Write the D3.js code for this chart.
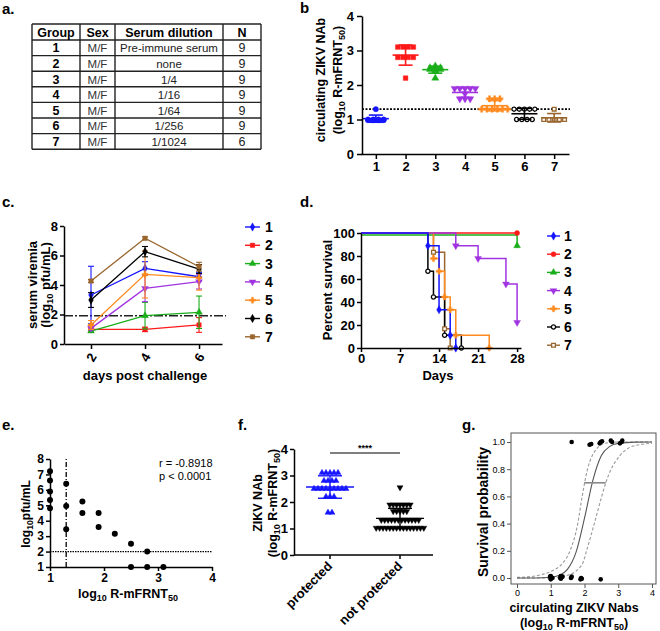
<!DOCTYPE html>
<html><head><meta charset="utf-8">
<script src="https://cdn.jsdelivr.net/npm/d3@7/dist/d3.min.js"></script>
<style>html,body{margin:0;padding:0;background:#fff;}</style>
</head><body>
<svg id="fig" width="660" height="631" xmlns="http://www.w3.org/2000/svg"></svg>
<script>
// ---------------- DATA ----------------
const groups = ["1","2","3","4","5","6","7"];
const groupColors = ["#1414ff","#ff1a1a","#1aae1a","#a034e0","#ff8a1f","#000000","#99662e"];

const tableHeader = ["Group","Sex","Serum dilution","N"];
const tableSex = ["M/F","M/F","M/F","M/F","M/F","M/F","M/F"];
const tableDilution = ["Pre-immune serum","none","1/4","1/16","1/64","1/256","1/1024"];
const tableN = ["9","9","9","9","9","9","6"];

// panel b: circulating nAb per group
const nabValues = [
  [1.3,1.0,1.0,1.0,1.0,0.98,0.98,0.98,0.98],
  [3.1,3.1,3.1,3.1,2.8,2.8,2.8,2.8,2.2],
  [2.55,2.5,2.5,2.5,2.45,2.45,2.45,2.4,2.2],
  [1.9,1.9,1.9,1.9,1.9,1.75,1.6,1.6,1.6],
  [1.6,1.6,1.6,1.3,1.3,1.3,1.3,1.3,1.3],
  [1.3,1.3,1.3,1.3,1.3,1.0,1.0,1.0,1.0],
  [1.3,1.0,1.0,1.0,1.0,1.0]
];
const nabThreshold = 1.3;
const bTicksY = [0,1,2,3,4];

// panel c: serum viremia
const viremiaDays = [2,4,6];
const viremiaMean = [
  [3.32,5.13,4.56],[0.99,0.99,1.29],[0.88,1.92,2.15],[1.06,3.77,4.23],
  [1.29,4.72,4.50],[2.98,6.26,5.08],[4.27,7.17,5.24]];
const viremiaSD = [
  [1.95,0.45,0.3],[0.1,0.15,0.5],[0.1,0.9,1.1],[0.1,0.9,0.5],
  [0.3,1.6,0.85],[0.5,0.35,0.3],[0.1,0.1,0.3]];
const viremiaLimit = 1.92;
const cTicksY = [0,2,4,6,8];

// panel d: survival (step times and percent survival)
const survTimes = [
  [0,12,14,16,17],[0,28],[0,28],[0,17,21,26,28],
  [0,13,14,15,16,17,23],[0,12,13,15,18],[0,13,15,16]];
const survValues = [
  [100,88.9,33.3,11.1,0],[100,100],[100,88.9],[100,88.9,77.8,55.6,22.2],
  [100,77.8,66.7,44.4,33.3,11.1,0],[100,66.7,44.4,11.1,0],[100,83.3,16.7,0]];
const dTicksX = [0,7,14,21,28];
const dTicksY = [0,20,40,60,80,100];

// panel e: viremia vs nAb
const eX = [1,1,1,1,1,1.3,1.3,1.3,1.6,1.6,1.9,1.9,2.2,2.5,2.5,2.8,2.8,3.1];
const eY = [7.2,6.6,5.9,5.35,4.8,6.4,4.95,3.45,5.25,4.5,4.5,3.6,3.15,2.5,1.0,2.0,1.0,1.0];
const eStats = ["r = -0.8918","p < 0.0001"];
const eCutX = 1.3, eCutY = 2;

// panel f: protected vs not protected
const fCategories = ["protected","not protected"];
const fProtected = [3.1,3.1,3.1,3.1,3.1,2.8,2.8,2.8,2.8,2.5,2.5,2.5,2.5,2.5,2.5,2.5,2.5,2.5,2.2,2.2,2.2,1.6,1.6];
const fNotProtected = [2.55,1.9,1.9,1.9,1.9,1.9,1.9,1.9,1.65,1.65,1.65,1.65,1.65,
  1.32,1.32,1.32,1.32,1.32,1.32,1.32,1.32,1.32,1.32,1.32,1.32,
  1.02,1.02,1.02,1.02,1.02,1.02,1.02,1.02,1.02,1.02,1.02,1.02,1.02,1.02,1.02];
const fSig = "****";

// panel g: logistic fit
const gFitX  = [0,0.5,1.0,1.25,1.5,1.75,2.0,2.25,2.5,2.75,3.0,3.5,4.0];
const gFitY  = [0.0,0.0005,0.006,0.02,0.065,0.19,0.44,0.72,0.90,0.968,0.99,0.999,1.0];
const gLowX  = [0,0.3,0.64,1.02,1.32,1.57,1.8,1.93,2.09,2.36,2.6,3.0,4.0];
const gLowY  = [0.005,0.008,0.02,0.05,0.1,0.2,0.4,0.6,0.8,0.95,0.99,1.0,1.0];
const gHighX = [0,1.0,1.5,1.93,2.06,2.29,2.51,2.63,2.79,3.05,3.44,4.0];
const gHighY = [0.0,0.001,0.02,0.1,0.2,0.4,0.6,0.7,0.8,0.9,0.97,0.99];
const gED = {y:0.7, lo:1.99, hi:2.63};
const gPtsX = [1.62,2.15,2.2,2.45,2.48,2.52,2.78,2.82,3.05,3.1,3.12,
  0.98,1.0,1.0,1.02,1.05,1.0,1.28,1.3,1.3,1.32,1.35,1.3,1.6,1.62,1.88,1.9,1.92,2.48];
const gPtsY = [1.0,0.98,0.985,0.99,1.0,1.005,1.01,1.0,0.99,1.0,1.01,
  0.01,0.0,-0.01,0.005,0.0,0.015,0.0,0.01,-0.005,0.005,0.01,0.015,0.0,0.01,-0.01,0.0,-0.005,-0.01];
const gTicksX = [0,1,2,3,4];
const gTicksY = [0,0.2,0.4,0.6,0.8,1.0];

// ---------------- HELPERS ----------------
const svg = d3.select("#fig");
const FONT = 'Arial, "Liberation Sans", Helvetica, sans-serif';
svg.attr("font-family", FONT);
const intFmt = d3.format("d");

function label(x, y, parts, o = {}) {
  const size = o.size || 13;
  const t = svg.append("text").attr("x", x).attr("y", y)
    .attr("font-size", size).attr("font-weight", o.weight || "bold")
    .attr("text-anchor", o.anchor || "middle").attr("fill", o.fill || "#000")
    .attr("font-family", o.family || FONT);
  if (o.rotate) t.attr("transform", `rotate(${o.rotate},${x},${y})`);
  const arr = typeof parts === "string" ? [[parts]] : parts;
  let shifted = false;
  arr.forEach(p => {
    const s = t.append("tspan").text(p[0]);
    if (p[1]) { s.attr("font-size", size * 0.72).attr("dy", shifted ? 0 : 3); shifted = true; }
    else if (shifted) { s.attr("dy", -3); shifted = false; }
  });
  return t;
}
const symMap = {circle:d3.symbolCircle, square:d3.symbolSquare, triangle:d3.symbolTriangle,
  tridown:d3.symbolTriangle, diamond:d3.symbolDiamond, plus:d3.symbolCross,
  ocircle:d3.symbolCircle, osquare:d3.symbolSquare};
function marker(g, kind, x, y, color, size) {
  const open = kind[0] === "o";
  g.append("path").attr("d", d3.symbol().type(symMap[kind]).size(size)())
    .attr("transform", `translate(${x},${y})` + (kind === "tridown" ? " rotate(180)" : ""))
    .attr("fill", open ? "#fff" : color).attr("stroke", color)
    .attr("stroke-width", open ? 1.3 : 0.4);
}
function styleAxis(g, fs, weight) {
  g.attr("font-family", FONT);
  g.select(".domain").attr("stroke", "#000").attr("stroke-width", 1.5);
  g.selectAll(".tick line").attr("stroke", "#000").attr("stroke-width", 1.5);
  g.selectAll(".tick text").attr("font-size", fs).attr("font-weight", weight || "bold").attr("fill", "#000");
}

// ---------------- PANEL LETTERS ----------------
label(2, 14, "a.", {size:15, anchor:"start"});
label(300, 13, "b", {size:15, anchor:"start"});
label(2, 207, "c.", {size:15, anchor:"start"});
label(300, 207, "d.", {size:15, anchor:"start"});
label(2, 430, "e.", {size:15, anchor:"start"});
label(238, 430, "f.", {size:15, anchor:"start"});
label(462, 430, "g.", {size:15, anchor:"start"});

// ---------------- PANEL A: TABLE ----------------
(function(){
  const colX = [32,80,115,223,261];
  const rowY = [24,40];
  for (let i = 0; i < groups.length; i++) rowY.push(40 + (i + 1) * 15.6);
  const g = svg.append("g");
  rowY.forEach(y => g.append("line").attr("x1", colX[0]).attr("x2", colX[4]).attr("y1", y).attr("y2", y)
    .attr("stroke", "#222").attr("stroke-width", 1.4));
  colX.forEach(x => g.append("line").attr("x1", x).attr("x2", x).attr("y1", rowY[0]).attr("y2", rowY[rowY.length-1])
    .attr("stroke", "#222").attr("stroke-width", 1.4));
  const cx = colX.slice(0, 4).map((x, i) => (x + colX[i+1]) / 2);
  tableHeader.forEach((h, i) => label(cx[i], 36.5, h, {size:12.5, weight:"bold"}));
  groups.forEach((gr, r) => {
    const y = (rowY[r+1] + rowY[r+2]) / 2 + 4.5;
    label(cx[0], y, gr, {size:12.5, weight:"bold"});
    label(cx[1], y, tableSex[r], {size:11.5, weight:"normal", family:'"Liberation Sans Narrow", "Arial Narrow", Arial, sans-serif', fill:"#333"});
    label(cx[2], y, tableDilution[r], {size:11.5, weight:"normal", fill:"#222"});
    label(cx[3], y, tableN[r], {size:12.5, weight:"normal", fill:"#222"});
  });
})();

// ---------------- PANEL B ----------------
(function(){
  const bSym = ["circle","square","triangle","tridown","plus","ocircle","osquare"];
  const x = d3.scaleLinear().domain([0.5, 7.5]).range([361, 569]);
  const y = d3.scaleLinear().domain([0, 4]).range([154, 16]);
  const g = svg.append("g");
  g.append("line").attr("x1", 362).attr("x2", 570).attr("y1", y(nabThreshold)).attr("y2", y(nabThreshold))
    .attr("stroke", "#000").attr("stroke-width", 1.6).attr("stroke-dasharray", "2,1.5");
  nabValues.forEach((vals, gi) => {
    const col = groupColors[gi];
    const cx = x(gi + 1);
    const counts = d3.rollup(vals, v => v.length, d => d);
    const seen = new Map();
    vals.forEach(v => {
      const n = counts.get(v), k = seen.get(v) || 0; seen.set(v, k + 1);
      const off = (k - (n - 1) / 2) * 5.2;
      marker(g, bSym[gi], cx + off, y(v), col, gi >= 5 ? 14 : 22);
    });
    const m = d3.mean(vals), sd = d3.deviation(vals);
    const ln = (x1, x2, y1, y2) => g.append("line").attr("x1", x1).attr("x2", x2).attr("y1", y1).attr("y2", y2)
      .attr("stroke", col).attr("stroke-width", 1.6);
    ln(cx - 13, cx + 13, y(m), y(m));
    ln(cx, cx, y(m - sd), y(m + sd));
    ln(cx - 7, cx + 7, y(m - sd), y(m - sd));
    ln(cx - 7, cx + 7, y(m + sd), y(m + sd));
  });
  const ax = g.append("g").attr("transform", "translate(362,0)")
    .call(d3.axisLeft(y).tickValues(bTicksY).tickFormat(intFmt).tickSize(5).tickPadding(3).tickSizeOuter(0));
  styleAxis(ax, 13);
  const bx = g.append("g").attr("transform", "translate(0,154)")
    .call(d3.axisBottom(x).tickValues(groups.map(Number)).tickFormat(intFmt).tickSize(5).tickPadding(3).tickSizeOuter(0));
  styleAxis(bx, 13);
  label(325, 80, "circulating ZIKV NAb", {size:12.5, rotate:-90});
  label(342, 80, [["(log"],["10",1],[" R-mFRNT"],["50",1],[")"]], {size:12.5, rotate:-90});
})();

// ---------------- PANEL C ----------------
(function(){
  const cSym = ["diamond","square","triangle","tridown","plus","diamond","square"];
  const x = d3.scaleLinear().domain([1, 6.85]).range([64, 222]);
  const y = d3.scaleLinear().domain([0, 8]).range([344, 226]);
  const g = svg.append("g");
  g.append("line").attr("x1", 64).attr("x2", 226).attr("y1", y(viremiaLimit)).attr("y2", y(viremiaLimit))
    .attr("stroke", "#222").attr("stroke-width", 1.4).attr("stroke-dasharray", "9,2,2,2");
  const line = d3.line().x((d, i) => x(viremiaDays[i])).y(d => y(d));
  viremiaMean.forEach((vals, gi) => {
    const col = groupColors[gi];
    vals.forEach((v, i) => {
      const sd = viremiaSD[gi][i], px = x(viremiaDays[i]);
      g.append("line").attr("x1", px).attr("x2", px).attr("y1", y(Math.max(0, v - sd))).attr("y2", y(v + sd))
        .attr("stroke", col).attr("stroke-width", 1.1);
      [v - sd, v + sd].forEach(e => { if (e > 0) g.append("line").attr("x1", px - 3).attr("x2", px + 3)
        .attr("y1", y(e)).attr("y2", y(e)).attr("stroke", col).attr("stroke-width", 1.1); });
    });
    g.append("path").attr("d", line(vals)).attr("fill", "none").attr("stroke", col).attr("stroke-width", 1.3);
    vals.forEach((v, i) => marker(g, cSym[gi], x(viremiaDays[i]), y(v), col, 20));
  });
  const ay = g.append("g").attr("transform", "translate(64,0)")
    .call(d3.axisLeft(y).tickValues(cTicksY).tickFormat(intFmt).tickSize(4).tickPadding(2).tickSizeOuter(0));
  styleAxis(ay, 13);
  const axb = g.append("g").attr("transform", "translate(0,344)")
    .call(d3.axisBottom(x).tickValues(viremiaDays).tickSize(5).tickFormat("").tickSizeOuter(0));
  styleAxis(axb, 13);
  viremiaDays.forEach(d => label(x(d), 357, String(d), {size:13, rotate:-60}).attr("dominant-baseline", "central"));
  label(145, 380, "days post challenge", {size:13});
  label(37, 285, "serum viremia", {size:13, rotate:-90});
  label(50, 285, [["(log"],["10",1],[" pfu/mL)"]], {size:13, rotate:-90});
  groups.forEach((gr, i) => {
    const yy = 227 + i * 18.3, col = groupColors[i];
    g.append("line").attr("x1", 245).attr("x2", 260).attr("y1", yy).attr("y2", yy).attr("stroke", col).attr("stroke-width", 1.4);
    marker(g, cSym[i], 252.5, yy, col, 20);
    label(265, yy + 5, gr, {size:14, anchor:"start"});
  });
})();

// ---------------- PANEL D ----------------
(function(){
  const dSym = ["diamond","circle","triangle","tridown","plus","ocircle","osquare"];
  const x = d3.scaleLinear().domain([0, 28.7]).range([361, 521]);
  const y = d3.scaleLinear().domain([0, 100]).range([348, 233]);
  const g = svg.append("g");
  const order = [2,1,6,5,4,3,0];
  const line = d3.line().curve(d3.curveStepAfter).x(d => x(d[0])).y(d => y(d[1]));
  order.forEach(gi => {
    const pts = survTimes[gi].map((t, i) => [t, survValues[gi][i]]);
    const off = gi === 2 ? 2 : 0;
    g.append("path").attr("d", line(pts)).attr("transform", `translate(0,${off})`)
      .attr("fill", "none").attr("stroke", groupColors[gi]).attr("stroke-width", 1.5);
  });
  order.forEach(gi => {
    survTimes[gi].forEach((t, i) => {
      if (i === 0) return;
      marker(g, dSym[gi], x(t), y(survValues[gi][i]), groupColors[gi], gi >= 5 ? 14 : 20);
    });
  });
  const ay = g.append("g").attr("transform", "translate(361,0)")
    .call(d3.axisLeft(y).tickValues(dTicksY).tickFormat(intFmt).tickSize(4).tickPadding(2).tickSizeOuter(0));
  styleAxis(ay, 13);
  const axb = g.append("g").attr("transform", "translate(0,348)")
    .call(d3.axisBottom(x).tickValues(dTicksX).tickFormat(intFmt).tickSize(4).tickPadding(2).tickSizeOuter(0));
  styleAxis(axb, 13);
  label(438, 380, "Days", {size:13});
  label(332, 290, "Percent survival", {size:13, rotate:-90});
  groups.forEach((gr, i) => {
    const yy = 236 + i * 18.2, col = groupColors[i];
    g.append("line").attr("x1", 547).attr("x2", 560).attr("y1", yy).attr("y2", yy).attr("stroke", col).attr("stroke-width", 1.4);
    marker(g, dSym[i], 553.5, yy, col, i >= 5 ? 14 : 20);
    label(564, yy + 5, gr, {size:14, anchor:"start"});
  });
})();

// ---------------- PANEL E ----------------
(function(){
  const x = d3.scaleLinear().domain([1, 4]).range([50, 212]);
  const y = d3.scaleLinear().domain([1, 8]).range([567, 459]);
  const g = svg.append("g");
  g.append("line").attr("x1", x(eCutX)).attr("x2", x(eCutX)).attr("y1", y(1)).attr("y2", y(8))
    .attr("stroke", "#000").attr("stroke-width", 1.3).attr("stroke-dasharray", "5,2,1,2");
  g.append("line").attr("x1", x(1)).attr("x2", x(4)).attr("y1", y(eCutY)).attr("y2", y(eCutY))
    .attr("stroke", "#000").attr("stroke-width", 1.3).attr("stroke-dasharray", "1.5,1");
  eX.forEach((v, i) => g.append("circle").attr("cx", x(v)).attr("cy", y(eY[i])).attr("r", 3).attr("fill", "#000"));
  const ay = g.append("g").attr("transform", "translate(50,0)")
    .call(d3.axisLeft(y).tickValues(d3.range(1, 9)).tickFormat(intFmt).tickSize(4).tickPadding(2).tickSizeOuter(0));
  styleAxis(ay, 12);
  const axb = g.append("g").attr("transform", "translate(0,567)")
    .call(d3.axisBottom(x).tickValues([1,2,3,4]).tickFormat(intFmt).tickSize(4).tickPadding(2).tickSizeOuter(0));
  styleAxis(axb, 12);
  label(159, 467, eStats[0], {size:11, weight:"normal", anchor:"start"});
  label(159, 480, eStats[1], {size:11, weight:"normal", anchor:"start"});
  label(128, 598, [["log"],["10",1],[" R-mFRNT"],["50",1]], {size:12.5});
  label(30, 514, [["log"],["10",1],["pfu/mL"]], {size:12, rotate:-90});
})();

// ---------------- PANEL F ----------------
(function(){
  const y = d3.scaleLinear().domain([0, 4]).range([555, 449]);
  const xs = [330, 400];
  const g = svg.append("g");
  const sets = [fProtected, fNotProtected];
  const cols = ["#1414ff", "#000"];
  const kinds = ["triangle", "tridown"];
  sets.forEach((vals, si) => {
    const counts = d3.rollup(vals, v => v.length, d => d);
    const seen = new Map();
    vals.forEach(v => {
      const n = counts.get(v), k = seen.get(v) || 0; seen.set(v, k + 1);
      const sp = si === 0 ? 4 : 3.4;
      marker(g, kinds[si], xs[si] + (k - (n - 1) / 2) * sp, y(v), cols[si], 16);
    });
    const m = d3.mean(vals), sd = d3.deviation(vals), cx = xs[si], col = cols[si];
    const ln = (x1, x2, y1, y2) => g.append("line").attr("x1", x1).attr("x2", x2).attr("y1", y1).attr("y2", y2)
      .attr("stroke", col).attr("stroke-width", 1.4);
    ln(cx - 24, cx + 24, y(m), y(m));
    ln(cx, cx, y(m - sd), y(m + sd));
    ln(cx - 12, cx + 12, y(m - sd), y(m - sd));
    ln(cx - 12, cx + 12, y(m + sd), y(m + sd));
  });
  g.append("line").attr("x1", xs[0]).attr("x2", xs[1]).attr("y1", 453).attr("y2", 453).attr("stroke", "#000").attr("stroke-width", 1.2);
  label(365, 451, fSig, {size:9});
  const ay = g.append("g").attr("transform", "translate(294,0)")
    .call(d3.axisLeft(y).tickValues([0,1,2,3,4]).tickFormat(intFmt).tickSize(4).tickPadding(2).tickSizeOuter(0));
  styleAxis(ay, 13);
  g.append("line").attr("x1", 294).attr("x2", 433).attr("y1", 555).attr("y2", 555).attr("stroke", "#000").attr("stroke-width", 1.5);
  xs.forEach(px => g.append("line").attr("x1", px).attr("x2", px).attr("y1", 555).attr("y2", 559).attr("stroke", "#000").attr("stroke-width", 1.5));
  fCategories.forEach((c, i) => label(xs[i] + 3, 567, c, {size:13, anchor:"end", rotate:-45}));
  label(262, 503, "ZIKV NAb", {size:12.5, rotate:-90});
  label(277, 503, [["(log"],["10",1],[" R-mFRNT"],["50",1],[")"]], {size:12.5, rotate:-90});
})();

// ---------------- PANEL G ----------------
(function(){
  const x = d3.scaleLinear().domain([0, 4]).range([517, 652]);
  const y = d3.scaleLinear().domain([0, 1]).range([578, 442]);
  const g = svg.append("g");
  g.append("rect").attr("x", 511).attr("y", 433).attr("width", 145).attr("height", 151)
    .attr("fill", "none").attr("stroke", "#555").attr("stroke-width", 1);
  const ln = d3.line().curve(d3.curveMonotoneX).x(d => x(d[0])).y(d => y(d[1]));
  g.append("path").attr("d", ln(gLowX.map((v, i) => [v, gLowY[i]]))).attr("fill", "none")
    .attr("stroke", "#9a9a9a").attr("stroke-width", 1.1).attr("stroke-dasharray", "3,2");
  g.append("path").attr("d", ln(gHighX.map((v, i) => [v, gHighY[i]]))).attr("fill", "none")
    .attr("stroke", "#9a9a9a").attr("stroke-width", 1.1).attr("stroke-dasharray", "3,2");
  g.append("path").attr("d", ln(gFitX.map((v, i) => [v, gFitY[i]]))).attr("fill", "none")
    .attr("stroke", "#555").attr("stroke-width", 1.1);
  g.append("line").attr("x1", x(gED.lo)).attr("x2", x(gED.hi)).attr("y1", y(gED.y)).attr("y2", y(gED.y))
    .attr("stroke", "#888").attr("stroke-width", 1.6);
  gPtsX.forEach((v, i) => g.append("circle").attr("cx", x(v)).attr("cy", y(gPtsY[i])).attr("r", 2.3).attr("fill", "#000"));
  const ay = g.append("g").attr("transform", "translate(511,0)")
    .call(d3.axisLeft(y).tickValues(gTicksY).tickFormat(d3.format(".1f")).tickSize(4).tickPadding(2).tickSizeOuter(0));
  styleAxis(ay, 9, "normal");
  ay.select(".domain").remove();
  ay.selectAll(".tick line").attr("stroke-width", 1).attr("stroke", "#555");
  const axb = g.append("g").attr("transform", "translate(0,584)")
    .call(d3.axisBottom(x).tickValues(gTicksX).tickFormat(intFmt).tickSize(4).tickPadding(2).tickSizeOuter(0));
  styleAxis(axb, 9, "normal");
  axb.select(".domain").remove();
  axb.selectAll(".tick line").attr("stroke-width", 1).attr("stroke", "#555");
  label(488, 512, "Survival probability", {size:14, rotate:-90});
  label(574, 612, "circulating ZIKV Nabs", {size:12.5});
  label(574, 627, [["(log"],["10",1],[" R-mFRNT"],["50",1],[")"]], {size:12.5});
})();
</script>
</body></html>
